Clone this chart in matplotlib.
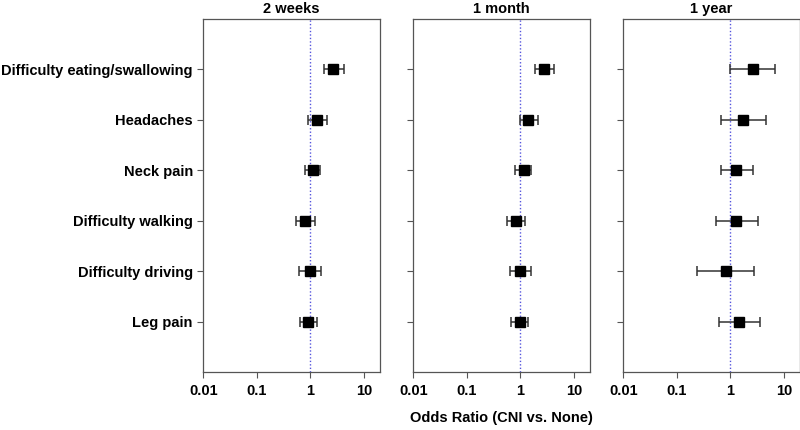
import matplotlib
matplotlib.use("Agg")
import matplotlib.pyplot as plt
import numpy as np

plt.rcParams['font.family'] = ['Liberation Sans', 'DejaVu Sans']

outcomes = ["Difficulty eating/swallowing", "Headaches", "Neck pain",
            "Difficulty walking", "Difficulty driving", "Leg pain"]
periods = ["2 weeks", "1 month", "1 year"]

# odds ratio, lower CI, upper CI per period (same order as outcomes)
or_2w = [2.7, 1.35, 1.1, 0.8, 0.98, 0.91]
lo_2w = [1.79, 0.91, 0.78, 0.53, 0.61, 0.64]
hi_2w = [4.2, 2.04, 1.53, 1.22, 1.59, 1.35]

or_1m = [2.8, 1.4, 1.14, 0.83, 1.0, 0.96]
lo_1m = [1.83, 0.96, 0.8, 0.55, 0.63, 0.67]
hi_1m = [4.3, 2.1, 1.55, 1.23, 1.57, 1.4]

or_1y = [2.6, 1.73, 1.29, 1.3, 0.82, 1.48]
lo_1y = [0.98, 0.66, 0.66, 0.54, 0.24, 0.62]
hi_1y = [6.8, 4.6, 2.6, 3.25, 2.79, 3.6]

data = [(or_2w, lo_2w, hi_2w), (or_1m, lo_1m, hi_1m), (or_1y, lo_1y, hi_1y)]

fig = plt.figure(figsize=(8, 4.3), dpi=100)
lefts = [0.254, 0.5167, 0.779]
ypos = np.arange(len(outcomes), 0, -1)

for i, (title, (o, lo, hi)) in enumerate(zip(periods, data)):
    ax = fig.add_axes([lefts[i], 0.135, 0.221, 0.821])
    o = np.array(o); lo = np.array(lo); hi = np.array(hi)
    ax.axvline(1, color='#5555dd', linestyle=(0, (1, 1.5)), linewidth=1.0, zorder=1)
    ax.errorbar(o, ypos, xerr=[o - lo, hi - o], fmt='s', color='black',
                ecolor='#333333', elinewidth=1.1, capsize=3.5, capthick=1.1,
                markersize=7, zorder=3)
    ax.set_xscale('log')
    ax.set_xlim(0.01, 20)
    ax.set_ylim(0, 7)
    ax.set_xticks([0.01, 0.1, 1, 10])
    ax.set_xticklabels(["0.01", "0.1", "1", "10"], fontweight='bold', fontsize=10.5)
    ax.minorticks_off()
    ax.set_yticks(ypos)
    if i == 0:
        ax.set_yticklabels(outcomes, fontweight='bold', fontsize=10.5)
    else:
        ax.set_yticklabels([])
    ax.tick_params(direction='out', length=4, color='#555555', width=0.8)
    ax.tick_params(axis='x', pad=5)
    for s in ax.spines.values():
        s.set_color('#555555')
        s.set_linewidth(0.9)
    ax.set_title(title, fontweight='bold', fontsize=10.5, pad=4)
    if i == 1:
        ax.set_xlabel("Odds Ratio (CNI vs. None)", fontweight='bold', fontsize=10.5, labelpad=9)

fig.savefig("out.png", dpi=100)
